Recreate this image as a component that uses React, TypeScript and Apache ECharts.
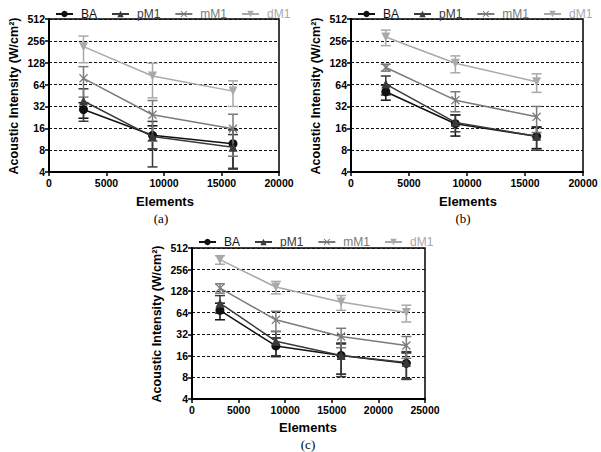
import React, { useEffect, useRef } from "react";
import * as echarts from "echarts";

// ---- data ----
const seriesNames = ["BA", "pM1", "mM1", "dM1"];
const elementsAB = [3000, 9000, 16000];
const elementsC = [3000, 9000, 16000, 23000];
const yTicks = [4, 8, 16, 32, 64, 128, 256, 512];

// chart (a)
const baA = [29, 12.8, 9.8];
const baAErr = [7, 4.5, 5.4];
const pm1A = [38, 12.3, 8.8];
const pm1AErr = [18, 7.6, 4.3];
const mm1A = [78, 24.6, 15.8];
const mm1AErr = [35, 14, 9.2];
const dm1A = [213, 84, 52];
const dm1AErr = [85, 42, 20];

// chart (b)
const baB = [51, 18.5, 12.4];
const baBErr = [12, 6, 4];
const pm1B = [65, 19.3, 12.4];
const pm1BErr = [19, 5, 4.4];
const mm1B = [110, 39, 23];
const mm1BErr = [12, 12, 9];
const dm1B = [290, 126, 70];
const dm1BErr = [70, 33, 20];

// chart (c)
const baC = [69, 22, 16.2, 12.6];
const baCErr = [18, 6.4, 7.3, 5];
const pm1C = [87, 25.6, 16.2, 12.9];
const pm1CErr = [24, 9.5, 8, 5.4];
const mm1C = [141, 51, 29.8, 22.3];
const mm1CErr = [21, 16, 9, 7.5];
const dm1C = [352, 146, 90, 64.5];
const dm1CErr = [48, 29, 21, 17];

const colors = ["#111111", "#3a3a3a", "#7a7a7a", "#a9a9a9"];
const symbols = [
  "circle",
  "triangle",
  "path://M1,0L5,4L9,0L10,1L6,5L10,9L9,10L5,6L1,10L0,9L4,5L0,1Z",
  "triangle",
];
const symbolRotates = [0, 0, 0, 180];

const FONT = "Liberation Sans, Arial, sans-serif";

const charts = [
  {
    x: elementsAB,
    vals: [baA, pm1A, mm1A, dm1A],
    errs: [baAErr, pm1AErr, mm1AErr, dm1AErr],
    xMax: 20000,
    grid: { left: 49, top: 19, width: 230, height: 153 },
    legendLeft: 50,
    legendTop: 3,
    caption: "(a)",
    capX: 161,
    capY: 218,
    elX: 165,
    elY: 201,
    ytX: 14,
    ytY: 96,
  },
  {
    x: elementsAB,
    vals: [baB, pm1B, mm1B, dm1B],
    errs: [baBErr, pm1BErr, mm1BErr, dm1BErr],
    xMax: 20000,
    grid: { left: 351, top: 19, width: 232, height: 153 },
    legendLeft: 352,
    legendTop: 3,
    caption: "(b)",
    capX: 463,
    capY: 218,
    elX: 468,
    elY: 201,
    ytX: 316,
    ytY: 96,
  },
  {
    x: elementsC,
    vals: [baC, pm1C, mm1C, dm1C],
    errs: [baCErr, pm1CErr, mm1CErr, dm1CErr],
    xMax: 25000,
    grid: { left: 192, top: 248, width: 233, height: 151 },
    legendLeft: 193,
    legendTop: 231,
    caption: "(c)",
    capX: 308,
    capY: 444,
    elX: 308,
    elY: 427,
    ytX: 157,
    ytY: 324,
  },
];

function buildOption() {
  const grid: any[] = [];
  const xAxis: any[] = [];
  const yAxis: any[] = [];
  const legend: any[] = [];
  const series: any[] = [];
  const graphic: any[] = [];

  charts.forEach((c, ci) => {
    grid.push({
      ...c.grid,
      show: true,
      borderColor: "#000",
      borderWidth: 1.5,
      containLabel: false,
    });
    xAxis.push({
      type: "value",
      gridIndex: ci,
      min: 0,
      max: c.xMax,
      interval: 5000,
      axisLine: { show: true, lineStyle: { color: "#000", width: 2 } },
      axisTick: { show: true, length: 4, lineStyle: { color: "#000", width: 1.5 } },
      axisLabel: {
        color: "#000",
        fontFamily: FONT,
        fontWeight: "bold",
        fontSize: 10.5,
        margin: 5,
        formatter: (v: number) => String(v),
      },
      splitLine: { show: false },
    });
    yAxis.push({
      type: "log",
      logBase: 2,
      gridIndex: ci,
      min: yTicks[0],
      max: yTicks[yTicks.length - 1],
      interval: 1,
      axisLine: { show: true, lineStyle: { color: "#000", width: 2 } },
      axisTick: { show: true, length: 4, lineStyle: { color: "#000", width: 1.5 } },
      axisLabel: {
        color: "#000",
        fontFamily: FONT,
        fontWeight: "bold",
        fontSize: 10.5,
        margin: 4,
        formatter: (v: number) => String(Math.round(v)),
      },
      splitLine: {
        show: true,
        lineStyle: { color: "#111", width: 1, type: [3, 2] },
      },
    });
    legend.push({
      left: c.legendLeft,
      top: c.legendTop,
      itemWidth: 17,
      itemHeight: 8,
      itemGap: 14,
      textStyle: { fontFamily: FONT, fontSize: 12, padding: [0, 0, 0, 3] },
      data: seriesNames.map((n, i) => ({ name: n, textStyle: { color: colors[i] } })),
    });

    seriesNames.forEach((name, si) => {
      series.push({
        type: "line",
        name,
        xAxisIndex: ci,
        yAxisIndex: ci,
        data: c.x.map((xv, k) => [xv, c.vals[si][k]]),
        symbol: symbols[si],
        symbolSize: 9,
        symbolRotate: symbolRotates[si],
        color: colors[si],
        lineStyle: { color: colors[si], width: 1.5 },
        itemStyle: { color: colors[si] },
        z: 3 + si,
      });
      series.push({
        type: "custom",
        name: name + "-err-" + ci,
        xAxisIndex: ci,
        yAxisIndex: ci,
        data: c.x.map((xv, k) => [xv, c.vals[si][k], c.errs[si][k]]),
        z: 2 + si,
        renderItem: (params: any, api: any) => {
          const xv = api.value(0);
          const yv = api.value(1);
          const ev = api.value(2);
          const hi = api.coord([xv, yv + ev]);
          const lo = api.coord([xv, Math.max(yv - ev, 4.05)]);
          const hw = 5;
          const st = { stroke: colors[si], lineWidth: 1.5 };
          return {
            type: "group",
            children: [
              { type: "line", shape: { x1: hi[0], y1: hi[1], x2: lo[0], y2: lo[1] }, style: st },
              { type: "line", shape: { x1: hi[0] - hw, y1: hi[1], x2: hi[0] + hw, y2: hi[1] }, style: st },
              { type: "line", shape: { x1: lo[0] - hw, y1: lo[1], x2: lo[0] + hw, y2: lo[1] }, style: st },
            ],
          };
        },
      });
    });

    graphic.push({
      type: "text",
      x: c.elX,
      y: c.elY,
      style: {
        text: "Elements",
        font: "bold 13px " + FONT,
        fill: "#000",
        align: "center",
        verticalAlign: "middle",
      },
    });
    graphic.push({
      type: "text",
      x: c.capX,
      y: c.capY,
      style: {
        text: c.caption,
        font: "13px Liberation Serif, DejaVu Serif, serif",
        fill: "#000",
        align: "center",
        verticalAlign: "middle",
      },
    });
    graphic.push({
      type: "text",
      x: c.ytX,
      y: c.ytY,
      rotation: Math.PI / 2,
      style: {
        text: "Acoustic Intensity (W/cm²)",
        font: "bold 12.5px " + FONT,
        fill: "#000",
        align: "center",
        verticalAlign: "middle",
      },
    });
  });

  return {
    animation: false,
    backgroundColor: "#fff",
    grid,
    xAxis,
    yAxis,
    legend,
    series,
    graphic,
  };
}

export default function App() {
  const ref = useRef<HTMLDivElement>(null);
  useEffect(() => {
    if (!ref.current) return;
    const chart = echarts.init(ref.current, undefined, { renderer: "svg" });
    chart.setOption(buildOption() as any);
    return () => chart.dispose();
  }, []);
  return (
    <div
      ref={ref}
      style={{ position: "fixed", left: 0, top: 0, width: 601, height: 452, background: "#fff" }}
    />
  );
}
